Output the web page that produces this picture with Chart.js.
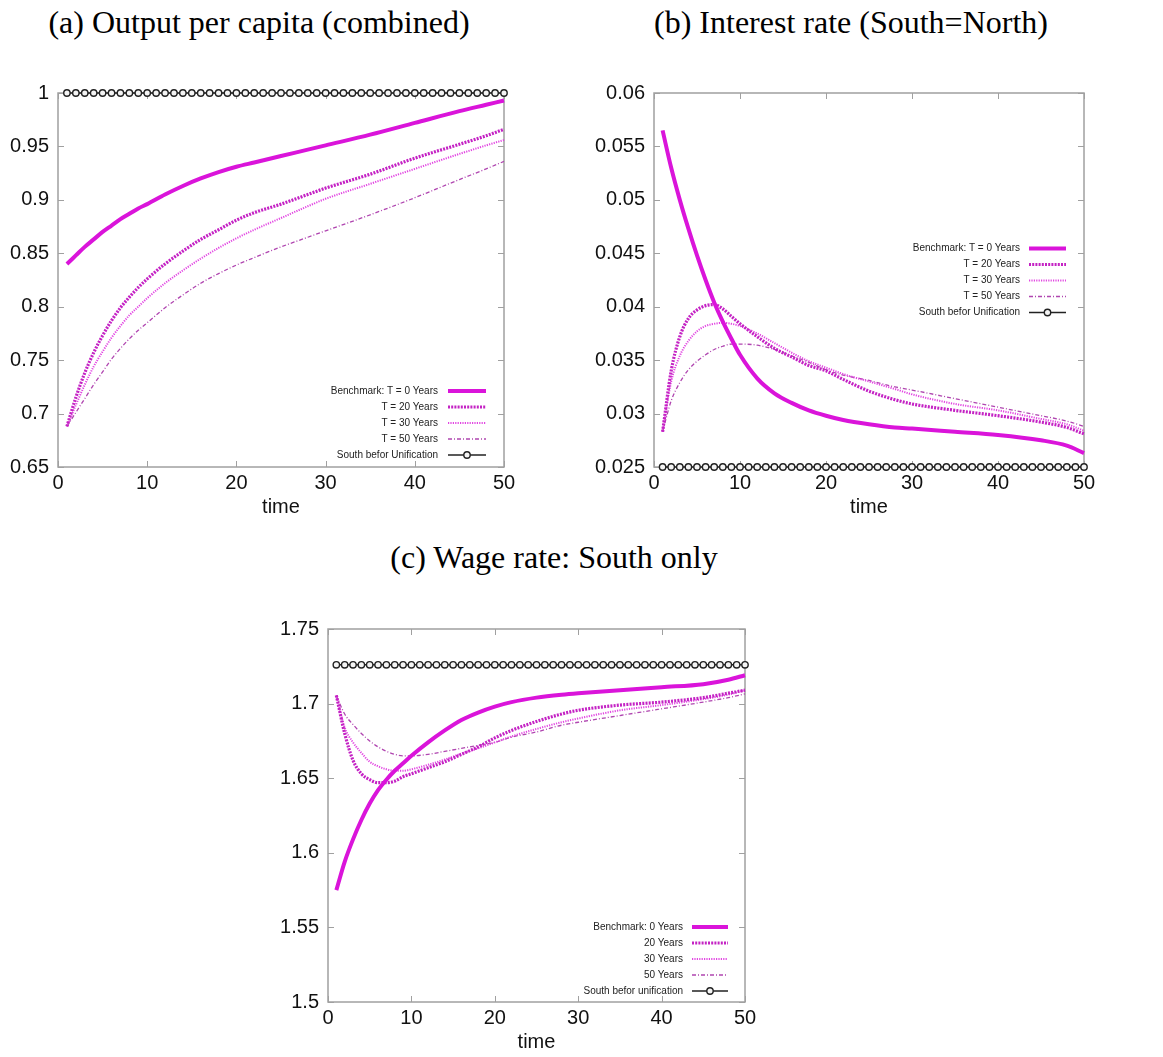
<!DOCTYPE html>
<html><head><meta charset="utf-8">
<script src="https://cdn.jsdelivr.net/npm/chart.js@4.4.1/dist/chart.umd.min.js"></script>
<style>
html,body{margin:0;padding:0;background:#fff;overflow:hidden;width:1163px;height:1057px;}
.t{position:absolute;font-family:'Liberation Serif','Times New Roman',serif;font-size:32px;line-height:36px;color:#000;white-space:nowrap;transform:translateX(-50%);}
canvas{position:absolute;}
</style></head><body>
<div class="t" style="left:259px;top:4px">(a) Output per capita (combined)</div>
<div class="t" style="left:851px;top:4px">(b) Interest rate (South=North)</div>
<div class="t" style="left:554px;top:539px">(c) Wage rate: South only</div>
<canvas id="ca" width="520" height="455" style="left:0px;top:72px"></canvas>
<canvas id="cb" width="516" height="455" style="left:584px;top:72px"></canvas>
<canvas id="cc" width="491" height="449" style="left:270px;top:608px"></canvas>
<script>
// ---------- data ----------
const timeGrid = [1,2,3,4,5,6,7,8,9,10,12,14,16,18,20,22,25,28,30,35,40,45,48,50];
const timeAll = [1,2,3,4,5,6,7,8,9,10,11,12,13,14,15,16,17,18,19,20,21,22,23,24,25,26,27,28,29,30,31,32,33,34,35,36,37,38,39,40,41,42,43,44,45,46,47,48,49,50];

// (a) Output per capita
const outBench = [0.840,0.848,0.856,0.863,0.870,0.876,0.882,0.887,0.892,0.896,0.905,0.913,0.920,0.926,0.931,0.935,0.941,0.947,0.951,0.961,0.972,0.983,0.989,0.993];
const outT20   = [0.688,0.715,0.738,0.757,0.773,0.787,0.799,0.809,0.818,0.826,0.840,0.852,0.863,0.872,0.881,0.888,0.896,0.905,0.911,0.924,0.939,0.952,0.960,0.966];
const outT30   = [0.688,0.708,0.727,0.744,0.758,0.771,0.782,0.792,0.800,0.808,0.822,0.834,0.845,0.855,0.864,0.872,0.883,0.894,0.901,0.915,0.929,0.943,0.951,0.956];
const outT50   = [0.688,0.701,0.714,0.727,0.739,0.751,0.761,0.770,0.778,0.785,0.799,0.811,0.822,0.831,0.839,0.846,0.856,0.865,0.871,0.886,0.902,0.919,0.929,0.936];
const outSouth = [1,1,1,1,1,1,1,1,1,1,1,1,1,1,1,1,1,1,1,1,1,1,1,1,1,1,1,1,1,1,1,1,1,1,1,1,1,1,1,1,1,1,1,1,1,1,1,1,1,1];

// (b) Interest rate
const rBench = [0.0565,0.0530,0.0500,0.0473,0.0448,0.0425,0.0404,0.0386,0.0370,0.0355,0.0333,0.0319,0.0310,0.0303,0.0298,0.0294,0.0290,0.0287,0.0286,0.0283,0.0280,0.0275,0.0270,0.0263];
const rT20   = [0.0283,0.0340,0.0372,0.0389,0.0397,0.0401,0.0402,0.0398,0.0391,0.0384,0.0372,0.0361,0.0353,0.0345,0.0340,0.0332,0.0321,0.0313,0.0309,0.0303,0.0298,0.0292,0.0287,0.0281];
const rT30   = [0.0283,0.0330,0.0354,0.0368,0.0377,0.0382,0.0384,0.0385,0.0384,0.0382,0.0375,0.0366,0.0357,0.0349,0.0343,0.0337,0.0330,0.0323,0.0318,0.0309,0.0303,0.0295,0.0290,0.0284];
const rT50   = [0.0283,0.0312,0.0329,0.0341,0.0349,0.0355,0.0360,0.0363,0.0365,0.0365,0.0364,0.0360,0.0354,0.0348,0.0341,0.0336,0.0331,0.0325,0.0322,0.0314,0.0306,0.0298,0.0293,0.0288];
const rSouth = [0.025,0.025,0.025,0.025,0.025,0.025,0.025,0.025,0.025,0.025,0.025,0.025,0.025,0.025,0.025,0.025,0.025,0.025,0.025,0.025,0.025,0.025,0.025,0.025,0.025,0.025,0.025,0.025,0.025,0.025,0.025,0.025,0.025,0.025,0.025,0.025,0.025,0.025,0.025,0.025,0.025,0.025,0.025,0.025,0.025,0.025,0.025,0.025,0.025,0.025];

// (c) Wage rate
const wBench = [1.575,1.594,1.609,1.622,1.633,1.642,1.649,1.655,1.660,1.665,1.674,1.682,1.689,1.694,1.698,1.701,1.704,1.706,1.707,1.709,1.711,1.713,1.716,1.719];
const wT20   = [1.7055,1.680,1.662,1.653,1.649,1.647,1.647,1.648,1.651,1.653,1.657,1.661,1.666,1.671,1.677,1.682,1.688,1.693,1.6955,1.699,1.701,1.704,1.707,1.709];
const wT30   = [1.7055,1.684,1.674,1.667,1.661,1.658,1.656,1.655,1.655,1.656,1.659,1.6625,1.6665,1.670,1.674,1.678,1.683,1.6875,1.690,1.6955,1.699,1.703,1.706,1.709];
const wT50   = [1.7055,1.693,1.686,1.680,1.675,1.671,1.668,1.666,1.665,1.665,1.666,1.668,1.670,1.672,1.674,1.6775,1.681,1.6855,1.6875,1.692,1.6965,1.701,1.704,1.7065];
const wSouth = [1.726,1.726,1.726,1.726,1.726,1.726,1.726,1.726,1.726,1.726,1.726,1.726,1.726,1.726,1.726,1.726,1.726,1.726,1.726,1.726,1.726,1.726,1.726,1.726,1.726,1.726,1.726,1.726,1.726,1.726,1.726,1.726,1.726,1.726,1.726,1.726,1.726,1.726,1.726,1.726,1.726,1.726,1.726,1.726,1.726,1.726,1.726,1.726,1.726,1.726];

// ticks
const xTicks = [0,10,20,30,40,50];
const xTickLabels = ['0','10','20','30','40','50'];
const yTicksA = [0.65,0.7,0.75,0.8,0.85,0.9,0.95,1];
const yLabelsA = ['0.65','0.7','0.75','0.8','0.85','0.9','0.95','1'];
const yTicksB = [0.025,0.03,0.035,0.04,0.045,0.05,0.055,0.06];
const yLabelsB = ['0.025','0.03','0.035','0.04','0.045','0.05','0.055','0.06'];
const yTicksC = [1.5,1.55,1.6,1.65,1.7,1.75];
const yLabelsC = ['1.5','1.55','1.6','1.65','1.7','1.75'];

// legends
const legendAB = ['Benchmark: T = 0 Years','T = 20 Years','T = 30 Years','T = 50 Years','South befor Unification'];
const legendC  = ['Benchmark: 0 Years','20 Years','30 Years','50 Years','South befor unification'];

// ---------- drawing ----------
const SANS = "'Liberation Sans', Arial, Helvetica, sans-serif";

function pts(xs, ys){ return ys.map((v,i)=>({x:xs[i], y:v})); }

const framePlugin = {
  id:'frame',
  beforeDatasetsDraw(chart){
    const {ctx, chartArea:a, scales} = chart;
    const x = scales.x, y = scales.y;
    ctx.save();
    ctx.strokeStyle = '#a0a0a0';
    ctx.lineWidth = 1.5;
    ctx.strokeRect(a.left, a.top, a.right-a.left, a.bottom-a.top);
    ctx.lineWidth = 1;
    const L = 6;
    ctx.beginPath();
    y.ticks.forEach(t=>{
      const p = Math.round(y.getPixelForValue(t.value))+0.5;
      ctx.moveTo(a.left,p); ctx.lineTo(a.left+L,p);
      ctx.moveTo(a.right,p); ctx.lineTo(a.right-L,p);
    });
    x.ticks.forEach(t=>{
      const p = Math.round(x.getPixelForValue(t.value))+0.5;
      ctx.moveTo(p,a.bottom); ctx.lineTo(p,a.bottom-L);
      ctx.moveTo(p,a.top); ctx.lineTo(p,a.top+L);
    });
    ctx.stroke();
    ctx.restore();
  }
};

const gnuLegend = {
  id:'gnuLegend',
  afterDatasetsDraw(chart, args, opts){
    const {ctx, chartArea:a} = chart;
    ctx.save();
    chart.data.datasets.forEach((ds,i)=>{
      const yy = (opts.fromTop != null ? a.top + opts.fromTop : a.bottom - opts.fromBottom) + i*opts.gap;
      ctx.font = opts.size + 'px ' + SANS;
      ctx.textAlign = 'right';
      ctx.textBaseline = 'middle';
      ctx.fillStyle = '#222';
      ctx.fillText(ds.label, a.right - opts.textRight, yy);
      const x0 = a.right - opts.lineStart, x1 = a.right - opts.lineEnd;
      ctx.strokeStyle = ds.borderColor;
      ctx.lineWidth = ds.borderWidth;
      ctx.setLineDash(ds.borderDash || []);
      ctx.beginPath(); ctx.moveTo(x0,yy); ctx.lineTo(x1,yy); ctx.stroke();
      ctx.setLineDash([]);
      if (ds.pointRadius > 0){
        ctx.beginPath();
        ctx.arc((x0+x1)/2, yy, ds.pointRadius, 0, Math.PI*2);
        ctx.fillStyle = ds.pointBackgroundColor;
        ctx.fill();
        ctx.lineWidth = ds.pointBorderWidth;
        ctx.strokeStyle = ds.pointBorderColor;
        ctx.stroke();
      }
    });
    ctx.restore();
  }
};

function makeDatasets(labels, bench, t20, t30, t50, south){
  const base = {pointRadius:0, fill:false, cubicInterpolationMode:'monotone', clip:false};
  return [
    Object.assign({}, base, {label:labels[0], data:pts(timeGrid,bench), borderColor:'rgb(218,20,218)', borderWidth:4}),
    Object.assign({}, base, {label:labels[1], data:pts(timeGrid,t20), borderColor:'rgb(196,34,196)', borderWidth:3.2, borderDash:[2,1.2]}),
    Object.assign({}, base, {label:labels[2], data:pts(timeGrid,t30), borderColor:'rgb(226,70,226)', borderWidth:2, borderDash:[1.2,1.2]}),
    Object.assign({}, base, {label:labels[3], data:pts(timeGrid,t50), borderColor:'rgb(176,70,176)', borderWidth:1.3, borderDash:[4,2,1,2]}),
    {label:labels[4], data:pts(timeAll,south), borderColor:'#222', borderWidth:1.4, tension:0, clip:false,
     pointRadius:3.2, pointBackgroundColor:'#f4f4f4', pointBorderColor:'#222', pointBorderWidth:1.4, pointHoverRadius:3.2}
  ];
}

function makeChart(id, datasets, yTicks, yLabels, yWidth, legendOpts){
  const yMin = yTicks[0], yMax = yTicks[yTicks.length-1];
  return new Chart(document.getElementById(id), {
    type:'line',
    data:{datasets},
    options:{
      responsive:false, animation:false, devicePixelRatio:1,
      layout:{padding:{top:20,right:16,left:0,bottom:legendOpts.padBottom}},
      plugins:{legend:{display:false}, tooltip:{enabled:false}, gnuLegend:legendOpts},
      scales:{
        x:{type:'linear', min:0, max:50,
           grid:{display:false, drawTicks:false}, border:{display:false},
           afterBuildTicks:s=>{ s.ticks = xTicks.map(v=>({value:v})); },
           afterFit:s=>{ s.height = 55; },
           ticks:{autoSkip:false, maxRotation:0, padding:4, color:'#111', font:{family:SANS,size:20},
                  callback:(v)=>xTickLabels[xTicks.indexOf(v)]},
           title:{display:true, text:'time', color:'#111', font:{family:SANS,size:20}, padding:{top:0,bottom:3}}},
        y:{type:'linear', min:yMin, max:yMax,
           grid:{display:false, drawTicks:false}, border:{display:false},
           afterBuildTicks:s=>{ s.ticks = yTicks.map(v=>({value:v})); },
           afterFit:s=>{ s.width = yWidth; },
           ticks:{autoSkip:false, padding:9, color:'#111', font:{family:SANS,size:20},
                  callback:(v)=>{ let k=0,b=1e9; yTicks.forEach((t,i)=>{const d=Math.abs(t-v); if(d<b){b=d;k=i;}}); return yLabels[k]; }}}
      }
    },
    plugins:[framePlugin, gnuLegend]
  });
}

makeChart('ca', makeDatasets(legendAB,outBench,outT20,outT30,outT50,outSouth), yTicksA, yLabelsA, 58,
  {fromBottom:76, gap:16, size:10, textRight:66, lineStart:56, lineEnd:18, padBottom:5});
makeChart('cb', makeDatasets(legendAB,rBench,rT20,rT30,rT50,rSouth), yTicksB, yLabelsB, 70,
  {fromTop:155.5, gap:16, size:10, textRight:64, lineStart:55, lineEnd:18, padBottom:5});
makeChart('cc', makeDatasets(legendC,wBench,wT20,wT30,wT50,wSouth), yTicksC, yLabelsC, 58,
  {fromBottom:75, gap:16, size:10, textRight:62, lineStart:53, lineEnd:17, padBottom:0});
</script>
</body></html>
